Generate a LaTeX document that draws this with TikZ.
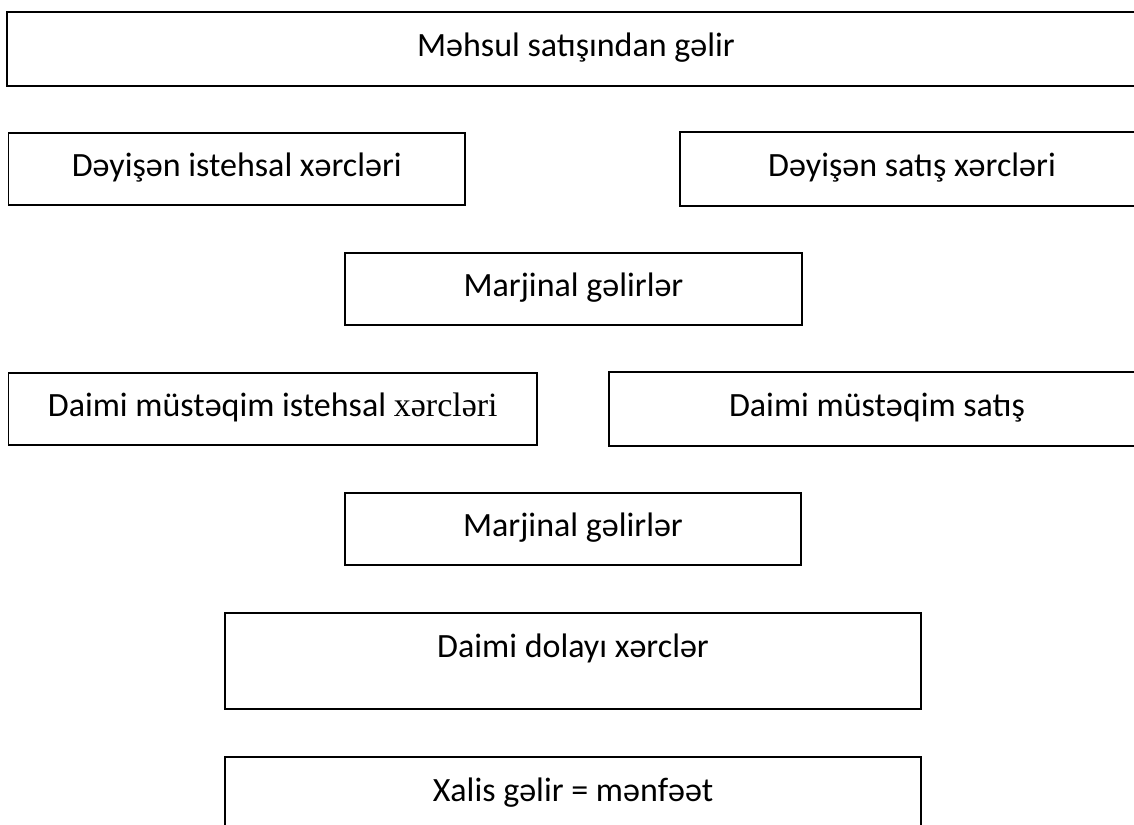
\documentclass[tikz,border=0pt]{standalone}
\usepackage{fontspec}
\setmainfont{Carlito}
\newfontfamily\serifword{Liberation Serif}
\begin{document}
\begin{tikzpicture}[x=1pt,y=-1pt,
  box/.style={draw=black, line width=1.6pt, rectangle, inner sep=0pt,
    font=\fontsize{34}{40}\selectfont, text height=24pt, text depth=8.6pt,
    minimum height=72pt},
  openbox/.style={box, draw=none},
  edge/.style={draw=black, line width=1.6pt},
  tallbox/.style={box, minimum height=96pt, text depth=32pt}]
\path[use as bounding box, clip] (0,0) rectangle (1134,824);
\fill[white] (0,0) rectangle (1134,824);
\node[openbox, minimum width=1136pt] (rev) at (576,49) {Məhsul satışından gəlir};
\node[box, minimum width=456.5pt] (vprod) at (236.75,169) {Dəyişən istehsal xərcləri};
\node[openbox, minimum width=462pt] (vsale) at (912,169) {Dəyişən satış xərcləri};
\node[box, minimum width=457pt] (marg1) at (573.5,289) {Marjinal gəlirlər};
\node[box, minimum width=528.5pt] (fprod) at (272.75,409) {Daimi müstəqim istehsal {\serifword xərcləri}};
\node[openbox, minimum width=534pt] (fsale) at (877,409) {Daimi müstəqim satış};
\node[box, minimum width=456pt] (marg2) at (573,529) {Marjinal gəlirlər};
\node[tallbox, minimum width=696pt] (fixind) at (573,661) {Daimi dolayı xərclər};
\node[tallbox, minimum width=696pt] (net) at (573,805) {Xalis gəlir = mənfəət};
\foreach \b in {rev,vsale,fsale}
  \draw[edge] (\b.north east) -- (\b.north west) -- (\b.south west) -- (\b.south east);
\end{tikzpicture}
\end{document}
